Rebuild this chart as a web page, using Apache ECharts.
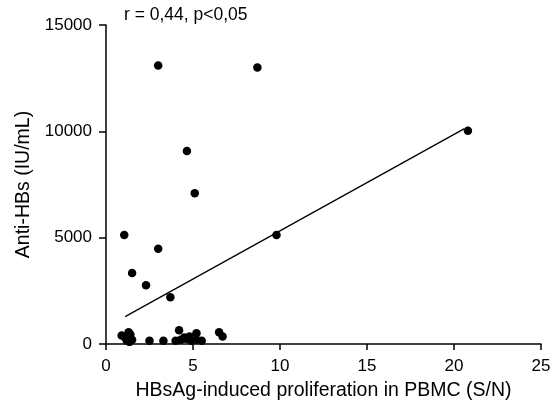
<!DOCTYPE html>
<html>
<head>
<meta charset="utf-8">
<script src="https://cdn.jsdelivr.net/npm/echarts@6/dist/echarts.min.js"></script>
<style>
  html, body { margin: 0; padding: 0; background: #fff; }
  #chart { width: 560px; height: 409px; }
</style>
</head>
<body>
<div id="chart"></div>
<script>
// 散点数据: x = HBsAg 诱导增殖 (S/N), y = Anti-HBs (IU/mL)
const pointX = [3.0, 8.7, 4.65, 5.1, 1.05, 3.0, 1.5, 2.3, 3.7, 9.8, 20.8,
  0.9, 1.1, 1.2, 1.3, 1.35, 1.4, 1.5, 2.5, 3.3, 4.0, 4.2, 4.3, 4.5, 4.6, 4.8, 4.9, 5.2, 5.2, 5.5, 6.5, 6.7];
const pointY = [13100, 13000, 9080, 7085, 5120, 4480, 3340, 2760, 2195, 5120, 10030,
  400, 300, 150, 550, 100, 450, 200, 150, 150, 150, 650, 200, 300, 250, 350, 150, 500, 200, 150, 550, 350];

// 回归线两端
const fitX = [1.1, 20.6];
const fitY = [1290, 10130];

const xTicks = [0, 5, 10, 15, 20, 25];
const yTicks = [0, 5000, 10000, 15000];
const annotation = "r = 0,44, p<0,05";

const FONT = "Liberation Sans, Arial, sans-serif";

const chart = echarts.init(document.getElementById("chart"));
chart.setOption({
  animation: false,
  backgroundColor: "#fff",
  grid: { left: 106, right: 19, top: 25, bottom: 65 },
  title: {
    text: annotation,
    left: 124,
    top: 6,
    padding: 0,
    textStyle: { fontFamily: FONT, fontSize: 17.5, fontWeight: "normal", color: "#000" },
  },
  xAxis: {
    type: "value",
    min: xTicks[0],
    max: xTicks[xTicks.length - 1],
    interval: 5,
    name: "HBsAg-induced proliferation in PBMC (S/N)",
    nameLocation: "middle",
    nameGap: 37,
    nameTextStyle: { fontFamily: FONT, fontSize: 19.5, color: "#000" },
    axisLine: { lineStyle: { color: "#000", width: 1.5 } },
    axisTick: { show: true, length: 6, lineStyle: { color: "#000", width: 1.5 } },
    axisLabel: { fontFamily: FONT, fontSize: 17, color: "#000", margin: 14 },
    splitLine: { show: false },
  },
  yAxis: {
    type: "value",
    min: yTicks[0],
    max: yTicks[yTicks.length - 1],
    interval: 5000,
    name: "Anti-HBs (IU/mL)",
    nameLocation: "middle",
    nameGap: 72,
    nameRotate: 90,
    nameTextStyle: { fontFamily: FONT, fontSize: 19.5, color: "#000" },
    axisLine: { show: true, lineStyle: { color: "#000", width: 1.5 } },
    axisTick: { show: true, length: 7, lineStyle: { color: "#000", width: 1.5 } },
    axisLabel: {
      fontFamily: FONT, fontSize: 17, color: "#000", margin: 14,
      formatter: (v) => String(v),
    },
    splitLine: { show: false },
  },
  series: [
    {
      type: "line",
      data: fitX.map((x, i) => [x, fitY[i]]),
      symbol: "none",
      lineStyle: { color: "#000", width: 1.3 },
      z: 1,
    },
    {
      type: "scatter",
      data: pointX.map((x, i) => [x, pointY[i]]),
      symbol: "circle",
      symbolSize: 8.5,
      itemStyle: { color: "#000", opacity: 1 },
      z: 2,
    },
  ],
});
</script>
</body>
</html>
